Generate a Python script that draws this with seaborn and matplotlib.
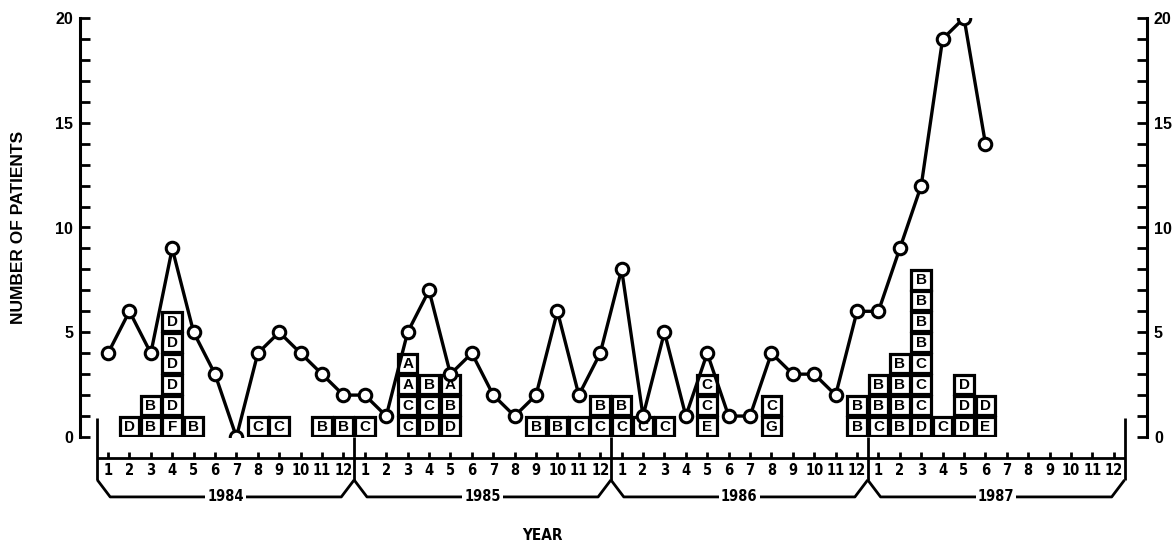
import warnings
import matplotlib
matplotlib.use("Agg")
import matplotlib.pyplot as plt
from matplotlib.patches import Rectangle
import seaborn as sns
import pandas as pd

warnings.filterwarnings("ignore")

years = [1984, 1985, 1986, 1987]
month_labels = [str(m) for m in range(1, 13)]

patients_1984 = [4, 6, 4, 9, 5, 3, 0, 4, 5, 4, 3, 2]
patients_1985 = [2, 1, 5, 7, 3, 4, 2, 1, 2, 6, 2, 4]
patients_1986 = [8, 1, 5, 1, 4, 1, 1, 4, 3, 3, 2, 6]
patients_1987 = [6, 9, 12, 19, 20, 14]

# lettered boxes, each string stacked from the bottom up
box_year = [1984, 1984, 1984, 1984, 1984, 1984, 1984, 1984,
            1985, 1985, 1985, 1985, 1985, 1985, 1985, 1985,
            1986, 1986, 1986, 1986, 1986, 1986,
            1987, 1987, 1987, 1987, 1987, 1987]
box_month = [2, 3, 4, 5, 8, 9, 11, 12,
             1, 3, 4, 5, 9, 10, 11, 12,
             1, 2, 3, 5, 8, 12,
             1, 2, 3, 4, 5, 6]
box_letters = ["D", "BB", "FDDDDD", "B", "C", "C", "B", "B",
               "C", "CCAA", "DCB", "DBA", "B", "B", "C", "CB",
               "CB", "C", "C", "ECC", "GC", "BB",
               "CBB", "BBBB", "DCCCBBBB", "C", "DDD", "ED"]

sns.set_theme(style="white")
plt.rcParams["font.family"] = ["Liberation Sans", "DejaVu Sans"]
plt.rcParams["text.color"] = "black"
narrow = ["Liberation Sans Narrow", "DejaVu Sans"]

counts = patients_1984 + patients_1985 + patients_1986 + patients_1987
df = pd.DataFrame({"idx": range(len(counts)), "patients": counts})

fig = plt.figure(figsize=(11.73, 5.48), dpi=100)
ax = fig.add_axes([80 / 1173, 111 / 548, 1067 / 1173, 419 / 548])

# boxes
for yr, mo, letters in zip(box_year, box_month, box_letters):
    x = (yr - years[0]) * 12 + (mo - 1)
    for lvl, ch in enumerate(letters):
        ax.add_patch(Rectangle((x - 0.46, lvl + 0.04), 0.92, 0.92, fc="white",
                               ec="black", lw=2.3, zorder=3))
        ax.text(x, lvl + 0.5, ch, ha="center", va="center", fontsize=11,
                fontweight="bold", zorder=4)

sns.lineplot(data=df, x="idx", y="patients", ax=ax, color="black", lw=2.4,
             marker="o", markersize=9, markerfacecolor="white",
             markeredgecolor="black", markeredgewidth=2.2, zorder=5)

ax.set_xlim(-1.31, 48.55)
ax.set_ylim(0, 20)
ax.set_xticks([])
ax.set_xlabel("")
ax.set_ylabel("")
ax.set_yticks(range(0, 21, 5))
ax.set_yticks(range(0, 21), minor=True)
ax.tick_params(axis="y", which="both", direction="in", length=7, width=2,
               left=True, right=True, labelleft=True, labelright=True,
               pad=5, labelsize=11.5, colors="black")
for lab in ax.get_yticklabels():
    lab.set_fontweight("bold")
for side in ["top", "bottom"]:
    ax.spines[side].set_visible(False)
for side in ["left", "right"]:
    ax.spines[side].set_linewidth(2.2)
    ax.spines[side].set_color("black")

# month timeline and year brackets under the plot
kw = dict(color="black", lw=2, clip_on=False, solid_capstyle="butt")
n = len(years) * 12
ax.plot([-0.5, n - 0.5], [-1, -1], **kw)
for i in range(n):
    ax.plot([i, i], [-1, -0.7], **kw)
    ax.text(i, -1.6, month_labels[i % 12], ha="center", va="center",
            fontsize=10.5, fontweight="bold", family=narrow,
            fontstretch="condensed")
for k, yr in enumerate(years):
    xl, xr = 12 * k - 0.5, 12 * k + 11.5
    ax.plot([xl, xl + 0.6, xr - 0.6, xr], [-2.05, -2.86, -2.86, -2.05], **kw)
    ax.text((xl + xr) / 2, -2.86, str(yr), ha="center", va="center",
            fontsize=10.5, fontweight="bold", family=narrow,
            fontstretch="condensed",
            bbox=dict(fc="white", ec="none", pad=1.5))
for k in range(len(years) + 1):
    xb = 12 * k - 0.5
    top = 0.9 if k in (0, len(years)) else 0
    ax.plot([xb, xb], [top, -2.05], **kw)

ax.text(-4.2, 10, "NUMBER OF PATIENTS", rotation=90, ha="center",
        va="center", fontsize=12.5, fontweight="bold")
ax.text(20.3, -4.68, "YEAR", ha="center", va="center", fontsize=11,
        fontweight="bold", family=narrow, fontstretch="condensed")

fig.savefig("out.png", dpi=100, facecolor="white")
